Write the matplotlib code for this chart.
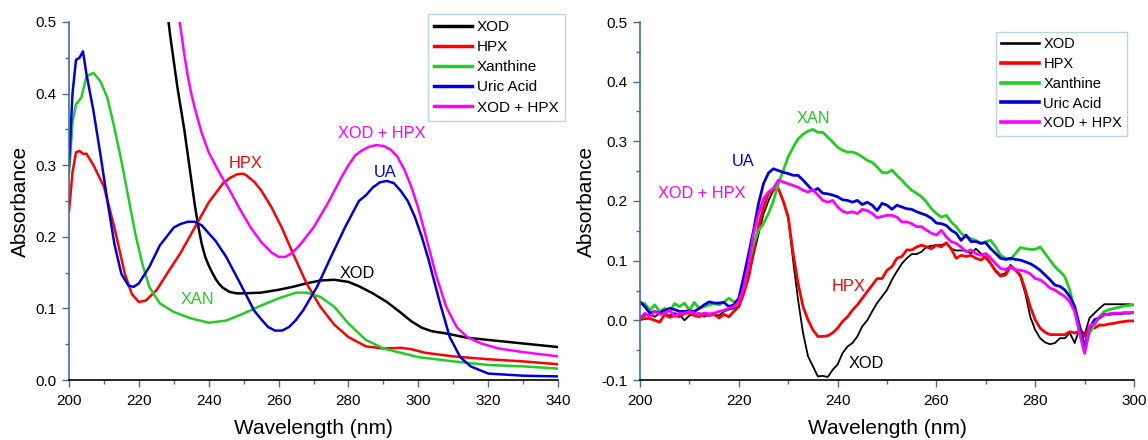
import numpy as np
import matplotlib
matplotlib.use("Agg")
import matplotlib.pyplot as plt
from matplotlib.ticker import MultipleLocator, FormatStrFormatter

plt.rcParams["font.family"] = ["Liberation Sans", "DejaVu Sans"]

# =========================
# Left panel: full spectra
# =========================
xod_wl = [226, 227, 228, 229, 230, 231, 232, 233, 234, 235, 236, 237, 238, 239,
          240, 241, 242, 243, 244, 245, 246, 248, 250, 255, 260, 264, 268, 272,
          276, 280, 283, 287, 291, 295, 298, 301, 304, 308, 314, 322, 330, 340]
xod_abs = [0.62, 0.57, 0.52, 0.48, 0.445, 0.41, 0.38, 0.35, 0.315, 0.28, 0.245,
           0.215, 0.19, 0.172, 0.16, 0.15, 0.141, 0.134, 0.129, 0.126, 0.123,
           0.121, 0.121, 0.122, 0.126, 0.13, 0.135, 0.139, 0.14, 0.137, 0.131,
           0.121, 0.109, 0.094, 0.082, 0.073, 0.068, 0.065, 0.059, 0.055, 0.051,
           0.046]

hpx_wl = [200, 201, 202, 203, 204, 205, 207, 210, 213, 216, 218, 220, 222, 225,
          228, 232, 236, 240, 244, 246, 248, 249, 250, 251, 253, 255, 258, 261,
          264, 268, 272, 276, 280, 285, 290, 295, 298, 302, 310, 320, 330, 340]
hpx_abs = [0.236, 0.29, 0.318, 0.32, 0.316, 0.316, 0.30, 0.27, 0.213, 0.148,
           0.12, 0.109, 0.111, 0.125, 0.148, 0.178, 0.213, 0.248, 0.274, 0.282,
           0.287, 0.288, 0.288, 0.285, 0.277, 0.265, 0.241, 0.212, 0.178, 0.135,
           0.102, 0.077, 0.06, 0.047, 0.044, 0.045, 0.043, 0.038, 0.033, 0.029,
           0.026, 0.022]

xan_wl = [200, 201, 202, 203.5, 205, 207, 209, 211, 213, 215, 217, 219, 221, 223,
          226, 230, 235, 240, 245, 250, 255, 260, 265, 268, 272, 276, 280, 285,
          290, 295, 300, 310, 320, 330, 340]
xan_abs = [0.288, 0.36, 0.385, 0.394, 0.424, 0.429, 0.417, 0.394, 0.352, 0.306,
           0.255, 0.204, 0.162, 0.13, 0.107, 0.095, 0.086, 0.08, 0.083, 0.093,
           0.104, 0.114, 0.122, 0.122, 0.116, 0.102, 0.079, 0.056, 0.044, 0.038,
           0.032, 0.026, 0.021, 0.019, 0.016]

ua_wl = [200, 201, 202, 203, 204, 205, 207, 209, 211, 213, 215, 217, 218.5, 220,
         223, 226, 230, 232, 234, 236, 238, 240, 242, 245, 249, 253, 255, 257,
         259, 261, 263, 265, 267, 271, 275, 279, 283, 285, 287, 289, 291, 293,
         295, 297, 299, 301, 303, 306, 309, 312, 315, 320, 330, 340]
ua_abs = [0.30, 0.40, 0.447, 0.45, 0.459, 0.427, 0.376, 0.315, 0.25, 0.19, 0.148,
          0.132, 0.13, 0.135, 0.158, 0.188, 0.213, 0.218, 0.221, 0.221, 0.216,
          0.205, 0.194, 0.172, 0.135, 0.097, 0.085, 0.074, 0.069, 0.069, 0.074,
          0.084, 0.097, 0.13, 0.172, 0.213, 0.25, 0.258, 0.269, 0.276, 0.278,
          0.275, 0.264, 0.25, 0.228, 0.2, 0.167, 0.111, 0.06, 0.032, 0.019,
          0.009, 0.006, 0.005]

mix_wl = [229, 230, 231, 232, 233, 234, 235, 236, 237, 238, 240, 243, 246, 249,
          252, 255, 258, 260, 262, 264, 266, 270, 274, 278, 280, 282, 284, 286,
          288, 290, 292, 294, 296, 298, 300, 302, 305, 308, 311, 314, 318, 323,
          330, 340]
mix_abs = [0.58, 0.55, 0.52, 0.49, 0.455, 0.425, 0.4, 0.38, 0.362, 0.345, 0.318,
           0.29, 0.265, 0.238, 0.213, 0.193, 0.178, 0.172, 0.172, 0.178, 0.188,
           0.213, 0.246, 0.283, 0.3, 0.314, 0.321, 0.326, 0.328, 0.327, 0.322,
           0.312, 0.294, 0.27, 0.24, 0.204, 0.148, 0.102, 0.074, 0.06, 0.051,
           0.044, 0.039, 0.033]

# =========================
# Right panel: difference spectra (200-300 nm, 1 nm step)
# =========================
diff_wl = list(range(200, 301))

diff_xod = [0.004, 0.008, 0.01, 0.006, 0.012, 0.01, 0.008, 0.012, 0.01, 0.0,
            0.008, 0.01, 0.012, 0.006, 0.01, 0.01, 0.008, 0.015, 0.018, 0.02,
            0.023, 0.045, 0.073, 0.11, 0.145, 0.178, 0.2, 0.218, 0.22, 0.2,
            0.173, 0.1, 0.034, -0.021, -0.06, -0.077, -0.094, -0.093, -0.095, -0.083,
            -0.074, -0.055, -0.044, -0.038, -0.027, -0.01, 0.0, 0.015, 0.029, 0.04,
            0.051, 0.068, 0.082, 0.095, 0.104, 0.111, 0.111, 0.115, 0.123, 0.125,
            0.126, 0.126, 0.129, 0.12, 0.117, 0.117, 0.117, 0.112, 0.12, 0.112,
            0.104, 0.095, 0.084, 0.076, 0.079, 0.093, 0.085, 0.073, 0.045, 0.006,
            -0.016, -0.03, -0.037, -0.04, -0.038, -0.03, -0.03, -0.021, -0.038, -0.013,
            -0.024, 0.004, 0.012, 0.02, 0.027, 0.027, 0.027, 0.027, 0.027, 0.027,
            0.026]

diff_hpx = [0.001, 0.003, 0.003, 0.0, -0.003, 0.01, 0.005, 0.008, 0.006, 0.012,
            0.012, 0.008, 0.006, 0.01, 0.008, 0.01, 0.004, 0.01, 0.006, 0.015,
            0.023, 0.045, 0.073, 0.118, 0.157, 0.19, 0.212, 0.219, 0.221, 0.2,
            0.173, 0.112, 0.062, 0.023, 0.001, -0.016, -0.027, -0.027, -0.026, -0.021,
            -0.013, -0.002, 0.006, 0.017, 0.026, 0.037, 0.048, 0.059, 0.07, 0.07,
            0.084, 0.09, 0.104, 0.107, 0.118, 0.118, 0.123, 0.126, 0.123, 0.12,
            0.126, 0.123, 0.13, 0.12, 0.104, 0.109, 0.107, 0.109, 0.104, 0.101,
            0.107, 0.095, 0.082, 0.074, 0.076, 0.09, 0.084, 0.076, 0.051, 0.023,
            0.001, -0.013, -0.02, -0.024, -0.024, -0.024, -0.024, -0.019, -0.021, -0.019,
            -0.027, -0.01, -0.013, -0.008, -0.008, -0.006, -0.005, -0.003, -0.002, -0.001,
            -0.001]

diff_xan = [0.029, 0.028, 0.017, 0.026, 0.015, 0.02, 0.015, 0.028, 0.023, 0.029,
            0.017, 0.03, 0.02, 0.023, 0.026, 0.028, 0.026, 0.031, 0.037, 0.031,
            0.034, 0.056, 0.095, 0.129, 0.151, 0.162, 0.179, 0.2, 0.229, 0.251,
            0.274, 0.29, 0.304, 0.312, 0.317, 0.32, 0.315, 0.315, 0.307, 0.299,
            0.29, 0.285, 0.282, 0.282, 0.279, 0.274, 0.268, 0.265, 0.257, 0.248,
            0.247, 0.252, 0.243, 0.235, 0.226, 0.218, 0.213, 0.207, 0.198, 0.187,
            0.179, 0.173, 0.176, 0.165, 0.157, 0.146, 0.14, 0.137, 0.134, 0.129,
            0.132, 0.134, 0.123, 0.109, 0.104, 0.102, 0.112, 0.122, 0.12, 0.119,
            0.119, 0.123, 0.112, 0.101, 0.09, 0.082, 0.073, 0.051, 0.017, -0.021,
            -0.055, -0.021, -0.008, 0.006, 0.015, 0.018, 0.02, 0.022, 0.024, 0.025,
            0.026]

diff_ua = [0.031, 0.023, 0.012, 0.015, 0.012, 0.017, 0.02, 0.018, 0.015, 0.015,
           0.016, 0.015, 0.02, 0.026, 0.031, 0.029, 0.029, 0.03, 0.023, 0.026,
           0.037, 0.073, 0.112, 0.151, 0.196, 0.229, 0.247, 0.254, 0.251, 0.248,
           0.246, 0.243, 0.243, 0.235, 0.226, 0.217, 0.221, 0.213, 0.212, 0.21,
           0.207, 0.202, 0.201, 0.198, 0.201, 0.194, 0.198, 0.193, 0.184, 0.196,
           0.193, 0.186, 0.193, 0.19, 0.187, 0.186, 0.182, 0.179, 0.176, 0.171,
           0.163, 0.162, 0.159, 0.151, 0.146, 0.134, 0.143, 0.132, 0.132, 0.129,
           0.13, 0.12, 0.112, 0.104, 0.102, 0.104, 0.102, 0.101, 0.098, 0.095,
           0.09, 0.084, 0.076, 0.068, 0.059, 0.057, 0.051, 0.04, 0.023, -0.01,
           -0.044, -0.013, 0.001, 0.004, 0.01, 0.01, 0.011, 0.011, 0.012, 0.012,
           0.013]

diff_mix = [0.004, 0.012, 0.006, 0.015, 0.01, 0.012, 0.017, 0.007, 0.012, 0.012,
            0.015, 0.012, 0.01, 0.012, 0.011, 0.012, 0.015, 0.017, 0.02, 0.023,
            0.031, 0.056, 0.095, 0.146, 0.179, 0.204, 0.215, 0.221, 0.235, 0.232,
            0.229, 0.226, 0.223, 0.218, 0.215, 0.219, 0.21, 0.201, 0.198, 0.201,
            0.19, 0.183, 0.18, 0.182, 0.179, 0.186, 0.184, 0.179, 0.172, 0.174,
            0.176, 0.176, 0.173, 0.165, 0.165, 0.162, 0.157, 0.157, 0.151, 0.146,
            0.143, 0.151, 0.14, 0.132, 0.129, 0.123, 0.115, 0.118, 0.112, 0.109,
            0.112, 0.104, 0.095, 0.087, 0.085, 0.09, 0.085, 0.084, 0.082, 0.078,
            0.07, 0.068, 0.062, 0.054, 0.051, 0.045, 0.04, 0.031, 0.015, -0.021,
            -0.055, -0.01, -0.005, 0.006, 0.009, 0.011, 0.012, 0.012, 0.013, 0.013,
            0.013]

LABELS = ["XOD", "HPX", "Xanthine", "Uric Acid", "XOD + HPX"]
COLORS = ["#000000", "#ff0000", "#22cc22", "#0000dd", "#ff00ff"]
SPINE_BLUE = "#3f6f9f"


def style_axes(ax, xmax, ymin):
    ax.spines["top"].set_visible(False)
    ax.spines["right"].set_visible(False)
    ax.spines["left"].set_color(SPINE_BLUE)
    ax.spines["bottom"].set_color("black")
    ax.spines["left"].set_linewidth(1.2)
    ax.spines["bottom"].set_linewidth(1.2)

    ax.set_xlim(200, xmax)
    ax.set_ylim(ymin, 0.5)
    ax.xaxis.set_major_locator(MultipleLocator(20))
    ax.xaxis.set_minor_locator(MultipleLocator(10))
    ax.yaxis.set_major_locator(MultipleLocator(0.1))
    ax.yaxis.set_minor_locator(MultipleLocator(0.05))
    ax.yaxis.set_major_formatter(FormatStrFormatter("%.1f"))

    ax.tick_params(which="major", direction="out", length=5, width=1,
                   color=SPINE_BLUE, labelsize=11, pad=4)
    ax.tick_params(which="minor", direction="out", length=3, width=1,
                   color=SPINE_BLUE)
    ax.tick_params(axis="x", which="major", pad=5)

    ax.set_xlabel("Wavelength (nm)", fontsize=15, labelpad=8)
    ax.set_ylabel("Absorbance", fontsize=15, labelpad=4)


fig = plt.figure(figsize=(11.48, 4.4), dpi=100)

# ==========================================================
# Left panel
# ==========================================================
ax1 = fig.add_axes([69 / 1148, 60 / 440, 489 / 1148, 358 / 440])

left_series = [
    (xod_wl, xod_abs),
    (hpx_wl, hpx_abs),
    (xan_wl, xan_abs),
    (ua_wl, ua_abs),
    (mix_wl, mix_abs),
]

for (wl, ab), lab, col in zip(left_series, LABELS, COLORS):
    ax1.plot(wl, ab, color=col, lw=1.8, label=lab, solid_joinstyle="round")

style_axes(ax1, 340, 0.0)

ann_kw = dict(fontsize=11.8, ha="center", va="center")
ax1.text(250.5, 0.302, "HPX", color=COLORS[1], **ann_kw)
ax1.text(289.4, 0.344, "XOD + HPX", color=COLORS[4], **ann_kw)
ax1.text(290.5, 0.29, "UA", color=COLORS[3], **ann_kw)
ax1.text(282.6, 0.149, "XOD", color=COLORS[0], **ann_kw)
ax1.text(236.8, 0.112, "XAN", color=COLORS[2], **ann_kw)

leg1 = ax1.legend(loc="upper left", bbox_to_anchor=(428 / 1148, 1 - 14 / 440),
                  bbox_transform=fig.transFigure, fontsize=11, frameon=True,
                  fancybox=False, handlelength=2.5, handletextpad=0.3,
                  labelspacing=0.4, borderpad=0.4, borderaxespad=0)
leg1.get_frame().set_edgecolor("#a8c8e8")
leg1.get_frame().set_linewidth(1.0)
for line in leg1.get_lines():
    line.set_linewidth(2.5)

# ==========================================================
# Right panel
# ==========================================================
ax2 = fig.add_axes([640 / 1148, 60 / 440, 494 / 1148, 358 / 440])

right_series = [diff_xod, diff_hpx, diff_xan, diff_ua, diff_mix]
right_widths = [1.3, 2.0, 2.0, 2.0, 2.0]

for ab, lab, col, lw in zip(right_series, LABELS, COLORS, right_widths):
    ax2.plot(diff_wl, ab, color=col, lw=lw, label=lab, solid_joinstyle="round")

style_axes(ax2, 300, -0.1)

ax2.text(235.1, 0.338, "XAN", color=COLORS[2], **ann_kw)
ax2.text(220.8, 0.267, "UA", color=COLORS[3], **ann_kw)
ax2.text(212.4, 0.213, "XOD + HPX", color=COLORS[4], **ann_kw)
ax2.text(242.2, 0.056, "HPX", color=COLORS[1], **ann_kw)
ax2.text(245.7, -0.072, "XOD", color=COLORS[0], **ann_kw)

leg2 = ax2.legend(loc="upper left", bbox_to_anchor=(996 / 1148, 1 - 32 / 440),
                  bbox_transform=fig.transFigure, fontsize=10.5, frameon=True,
                  fancybox=False, handlelength=2.6, handletextpad=0.3,
                  labelspacing=0.4, borderpad=0.35, borderaxespad=0)
leg2.get_frame().set_edgecolor("#a8c8e8")
leg2.get_frame().set_linewidth(1.0)
for line, lw in zip(leg2.get_lines(), right_widths):
    line.set_linewidth(lw + 0.6)

fig.savefig("out.png", dpi=100)
